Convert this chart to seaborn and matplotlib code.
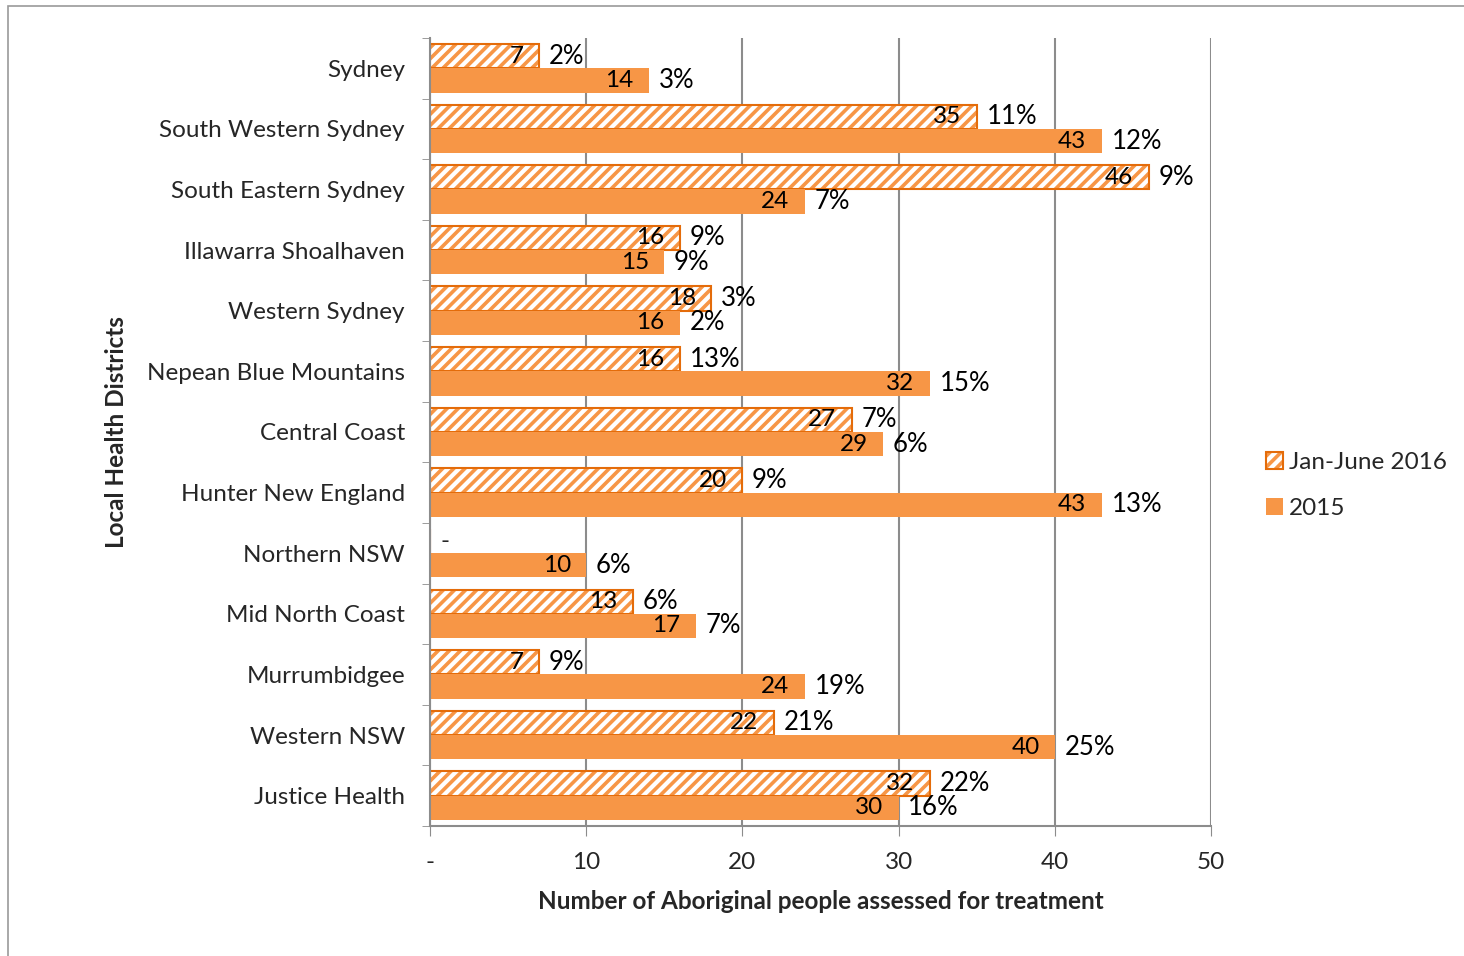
import pandas as pd
import seaborn as sns
import matplotlib.pyplot as plt
from matplotlib.colors import to_rgba
from matplotlib.patches import Patch, Rectangle

districts = ["Sydney", "South Western Sydney", "South Eastern Sydney", "Illawarra Shoalhaven",
             "Western Sydney", "Nepean Blue Mountains", "Central Coast", "Hunter New England",
             "Northern NSW", "Mid North Coast", "Murrumbidgee", "Western NSW", "Justice Health"]
n_2016 = [7, 35, 46, 16, 18, 16, 27, 20, 0, 13, 7, 22, 32]
pct_2016 = ["2%", "11%", "9%", "9%", "3%", "13%", "7%", "9%", "", "6%", "9%", "21%", "22%"]
n_2015 = [14, 43, 24, 15, 16, 32, 29, 43, 10, 17, 24, 40, 30]
pct_2015 = ["3%", "12%", "7%", "9%", "2%", "15%", "6%", "13%", "6%", "7%", "19%", "25%", "16%"]
periods = ["Jan-June 2016", "2015"]

ORANGE = "#F79646"
DARK = "#E46C0A"
GRID = "#8C8C8C"

df = pd.DataFrame({
    "district": districts * 2,
    "count": n_2016 + n_2015,
    "period": [periods[0]] * len(districts) + [periods[1]] * len(districts),
})

sns.set_style("white")
plt.rcParams["font.family"] = ["Lato", "DejaVu Sans"]
plt.rcParams["hatch.linewidth"] = 2.6

fig = plt.figure(figsize=(14.64, 9.56), dpi=100)
ax = fig.add_axes([0.2937, 0.136, 0.8272 - 0.2937, 0.9603 - 0.136])

sns.barplot(data=df, y="district", x="count", hue="period", hue_order=periods,
            orient="h", palette=[ORANGE, ORANGE], width=0.8, saturation=1,
            legend=False, ax=ax)


def stripe(p):
    # white bar, light orange stripes, darker orange outline
    p.set_facecolor("white")
    p.set_edgecolor(DARK)
    p.set_hatch("///")
    p.set_linewidth(1.5)
    if hasattr(p, "set_hatchcolor"):
        p.set_hatchcolor(ORANGE)
    else:
        p._hatch_color = to_rgba(ORANGE)


hatched, solid = ax.containers[0], ax.containers[1]
for p in hatched:
    stripe(p)
for p in solid:
    p.set_edgecolor("none")

fs = 17.5
for cont, vals, pcts in [(hatched, n_2016, pct_2016), (solid, n_2015, pct_2015)]:
    for p, v, pc in zip(cont, vals, pcts):
        yc = p.get_y() + p.get_height() / 2
        xe = p.get_x() + p.get_width()
        if v == 0:
            ax.annotate("-", (0, yc), xytext=(11, 0), textcoords="offset points",
                        ha="center", va="center", fontsize=fs)
            continue
        ax.annotate(str(v), (xe, yc), xytext=(-11, 0), textcoords="offset points",
                    ha="right", va="center", fontsize=fs, color="black")
        ax.annotate(pc, (xe, yc), xytext=(7, 0), textcoords="offset points",
                    ha="left", va="center", fontsize=fs + 1, color="black")

ax.set_xlim(0, 50)
ax.set_ylim(len(districts) - 0.5, -0.5)
ax.set_xticks([0, 10, 20, 30, 40, 50])
ax.set_xticklabels(["-", "10", "20", "30", "40", "50"], fontsize=fs)
ax.tick_params(axis="x", which="major", direction="out", length=7, color=GRID, pad=12, bottom=True)
ax.tick_params(axis="y", which="major", length=0, pad=18, labelsize=fs)
ax.set_yticks([i - 0.5 for i in range(len(districts) + 1)], minor=True)
ax.tick_params(axis="y", which="minor", direction="out", length=6, color=GRID, left=True)

ax.grid(axis="x", color=GRID, linewidth=1.5)
ax.set_axisbelow(True)
for s in ["top", "right"]:
    ax.spines[s].set_visible(False)
for s in ["left", "bottom"]:
    ax.spines[s].set_color(GRID)
    ax.spines[s].set_linewidth(1.5)

ax.set_xlabel("Number of Aboriginal people assessed for treatment", fontsize=17.5,
              fontweight="bold", labelpad=12)
ax.set_ylabel("Local Health Districts", fontsize=17.5, fontweight="bold", labelpad=14)

leg_h = Patch(facecolor="white", edgecolor=DARK, hatch="///", linewidth=1.5, label=periods[0])
handles = [leg_h, Patch(facecolor=ORANGE, edgecolor="none", label=periods[1])]
leg = fig.legend(handles=handles, loc="center left", bbox_to_anchor=(0.8495, 0.492), frameon=False,
                 fontsize=17.5, handlelength=0.7, handleheight=0.7, handletextpad=0.25,
                 labelspacing=1.05)
h0 = leg.get_patches()[0]
if hasattr(h0, "set_hatchcolor"):
    h0.set_hatchcolor(ORANGE)
else:
    h0._hatch_color = to_rgba(ORANGE)

fig.add_artist(Rectangle((8 / 1464, -0.1), 1.2, 1 - 6 / 956 + 0.1, transform=fig.transFigure,
                         fill=False, edgecolor="#9A9A9A", linewidth=1.2))

fig.savefig("out.png", dpi=100)
